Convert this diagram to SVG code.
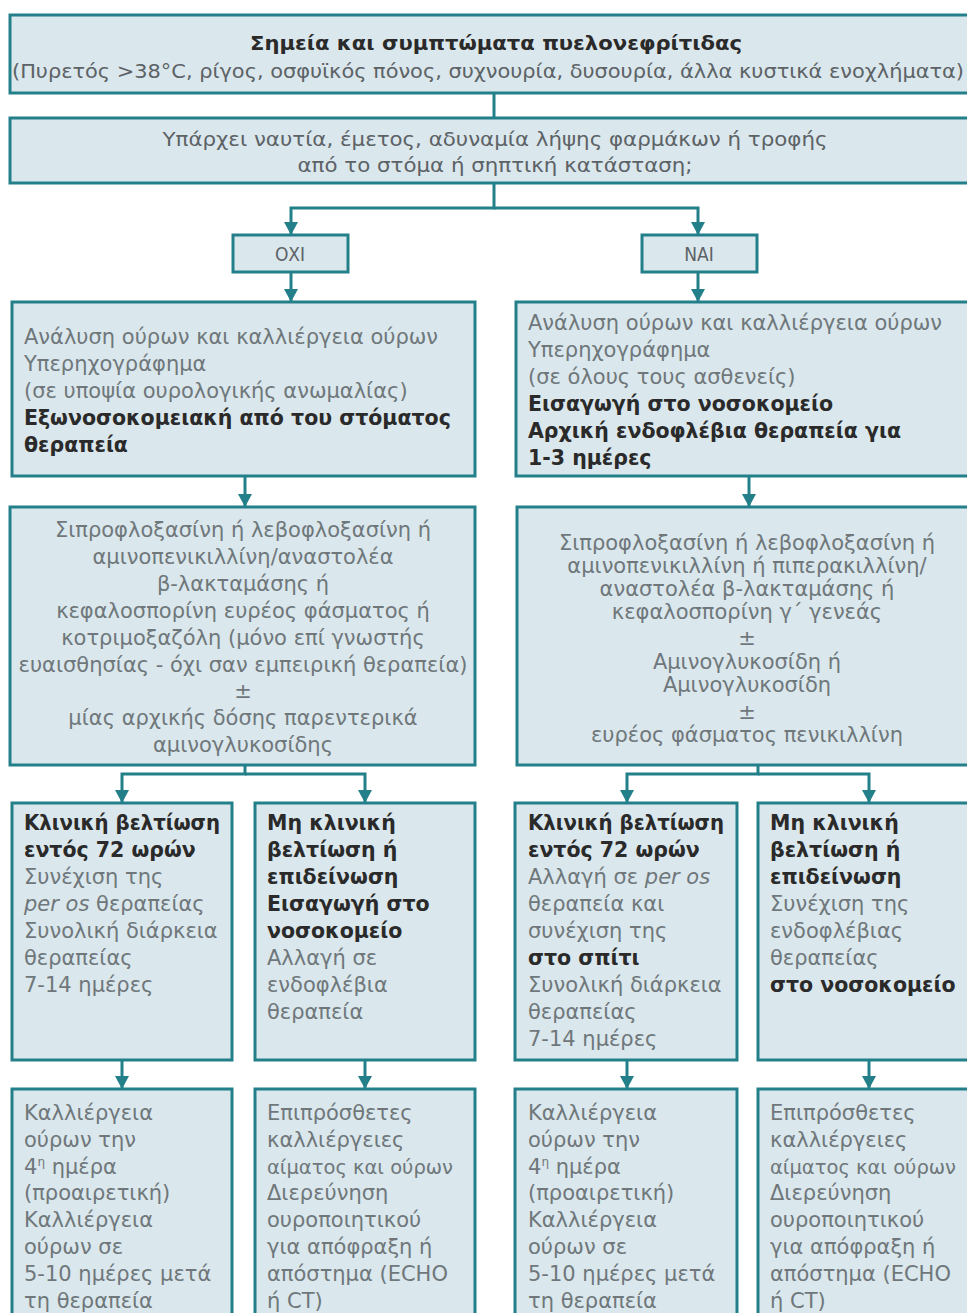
<svg xmlns="http://www.w3.org/2000/svg" width="967" height="1313" viewBox="0 0 967 1313">
<defs>
<marker id="arr" viewBox="0 0 13 14" refX="12" refY="7" markerWidth="13" markerHeight="14" markerUnits="userSpaceOnUse" orient="auto">
<path d="M0,0 L13,7 L0,14 z" fill="#23808a"/>
</marker>
<style>
.box{fill:#dae7ec;stroke:#23808a;stroke-width:3}
.con{fill:none;stroke:#23808a;stroke-width:3}
.t{font-family:"DejaVu Sans","Liberation Sans",sans-serif;font-size:21px;fill:#6f777b}
.b{font-family:"DejaVu Sans","Liberation Sans",sans-serif;font-size:20.5px;font-weight:bold;fill:#2a2a2a}
.c{text-anchor:middle}
.s{font-size:19.5px}
.n{font-family:"DejaVu Sans Condensed","DejaVu Sans","Liberation Sans Narrow",sans-serif;font-size:19px;fill:#5c6266}
</style>
</defs>
<rect width="967" height="1313" fill="#ffffff"/>

<g id="connectors">
<path class="con" d="M494,93 V118"/>
<path class="con" d="M494,183 V208 H291 V234" marker-end="url(#arr)"/>
<path class="con" d="M494,208 H698 V234" marker-end="url(#arr)"/>
<path class="con" d="M291,272 V301" marker-end="url(#arr)"/>
<path class="con" d="M698,272 V301" marker-end="url(#arr)"/>
<path class="con" d="M245,476 V506" marker-end="url(#arr)"/>
<path class="con" d="M749,476 V506" marker-end="url(#arr)"/>
<path class="con" d="M245,765 V774 H122 V802" marker-end="url(#arr)"/>
<path class="con" d="M245,774 H365 V802" marker-end="url(#arr)"/>
<path class="con" d="M758,765 V774 H627 V802" marker-end="url(#arr)"/>
<path class="con" d="M758,774 H869 V802" marker-end="url(#arr)"/>
<path class="con" d="M122,1060 V1088" marker-end="url(#arr)"/>
<path class="con" d="M365,1060 V1088" marker-end="url(#arr)"/>
<path class="con" d="M627,1060 V1088" marker-end="url(#arr)"/>
<path class="con" d="M869,1060 V1088" marker-end="url(#arr)"/>
</g>

<g id="n1">
<rect class="box" x="10" y="15" width="975" height="78"/>
<text class="n c" x="496" y="50" font-weight="bold" style="fill:#2a2a2a" textLength="492" lengthAdjust="spacingAndGlyphs">Σημεία και συμπτώματα πυελονεφρίτιδας</text>
<text class="n c" x="488" y="78" textLength="952" lengthAdjust="spacingAndGlyphs">(Πυρετός &gt;38°C, ρίγος, οσφυϊκός πόνος, συχνουρία, δυσουρία, άλλα κυστικά ενοχλήματα)</text>
</g>

<g id="n2">
<rect class="box" x="10" y="118" width="975" height="65"/>
<text class="n c" x="495" y="146" textLength="665" lengthAdjust="spacingAndGlyphs">Υπάρχει ναυτία, έμετος, αδυναμία λήψης φαρμάκων ή τροφής</text>
<text class="n c" x="495" y="172" textLength="395" lengthAdjust="spacingAndGlyphs">από το στόμα ή σηπτική κατάσταση;</text>
</g>

<g id="n_oxi">
<rect class="box" x="233" y="235" width="115" height="37"/>
<text class="n c" x="290" y="261">ΟΧΙ</text>
</g>

<g id="n_nai">
<rect class="box" x="642" y="235" width="115" height="37"/>
<text class="n c" x="699" y="261">ΝΑΙ</text>
</g>

<g id="n3l">
<rect class="box" x="12" y="302" width="463" height="174"/>
<text class="t" x="24" y="344">Ανάλυση ούρων και καλλιέργεια ούρων</text>
<text class="t" x="24" y="371">Υπερηχογράφημα</text>
<text class="t" x="24" y="398">(σε υποψία ουρολογικής ανωμαλίας)</text>
<text class="b" x="24" y="425">Εξωνοσοκομειακή από του στόματος</text>
<text class="b" x="24" y="452">θεραπεία</text>
</g>

<g id="n3r">
<rect class="box" x="516" y="302" width="470" height="174"/>
<text class="t" x="528" y="330">Ανάλυση ούρων και καλλιέργεια ούρων</text>
<text class="t" x="528" y="357">Υπερηχογράφημα</text>
<text class="t" x="528" y="384">(σε όλους τους ασθενείς)</text>
<text class="b" x="528" y="411">Εισαγωγή στο νοσοκομείο</text>
<text class="b" x="528" y="438">Αρχική ενδοφλέβια θεραπεία για</text>
<text class="b" x="528" y="465">1-3 ημέρες</text>
</g>

<g id="n4l">
<rect class="box" x="10" y="507" width="465" height="258"/>
<text class="t c" x="243" y="537">Σιπροφλοξασίνη ή λεβοφλοξασίνη ή</text>
<text class="t c" x="243" y="564">αμινοπενικιλλίνη/αναστολέα</text>
<text class="t c" x="243" y="591">β-λακταμάσης ή</text>
<text class="t c" x="243" y="618">κεφαλοσπορίνη ευρέος φάσματος ή</text>
<text class="t c" x="243" y="645">κοτριμοξαζόλη (μόνο επί γνωστής</text>
<text class="t c" x="243" y="672">ευαισθησίας - όχι σαν εμπειρική θεραπεία)</text>
<text class="t c" x="243" y="698">±</text>
<text class="t c" x="243" y="725">μίας αρχικής δόσης παρεντερικά</text>
<text class="t c" x="243" y="752">αμινογλυκοσίδης</text>
</g>

<g id="n4r">
<rect class="box" x="517" y="507" width="470" height="258"/>
<text class="t c" x="747" y="550">Σιπροφλοξασίνη ή λεβοφλοξασίνη ή</text>
<text class="t c" x="747" y="573">αμινοπενικιλλίνη ή πιπερακιλλίνη/</text>
<text class="t c" x="747" y="596">αναστολέα β-λακταμάσης ή</text>
<text class="t c" x="747" y="619">κεφαλοσπορίνη γ΄ γενεάς</text>
<text class="t c" x="747" y="645">±</text>
<text class="t c" x="747" y="669">Αμινογλυκοσίδη ή</text>
<text class="t c" x="747" y="692">Αμινογλυκοσίδη</text>
<text class="t c" x="747" y="719">±</text>
<text class="t c" x="747" y="742">ευρέος φάσματος πενικιλλίνη</text>
</g>

<g id="n5a">
<rect class="box" x="12" y="803" width="220" height="257"/>
<text class="b" x="24" y="830" textLength="196" lengthAdjust="spacingAndGlyphs">Κλινική βελτίωση</text>
<text class="b" x="24" y="857">εντός 72 ωρών</text>
<text class="t" x="24" y="884">Συνέχιση της</text>
<text class="t" x="24" y="911"><tspan font-style="italic">per os</tspan> θεραπείας</text>
<text class="t" x="24" y="938">Συνολική διάρκεια</text>
<text class="t" x="24" y="965">θεραπείας</text>
<text class="t" x="24" y="992">7-14 ημέρες</text>
</g>

<g id="n5b">
<rect class="box" x="255" y="803" width="220" height="257"/>
<text class="b" x="267" y="830">Μη κλινική</text>
<text class="b" x="267" y="857">βελτίωση ή</text>
<text class="b" x="267" y="884">επιδείνωση</text>
<text class="b" x="267" y="911">Εισαγωγή στο</text>
<text class="b" x="267" y="938">νοσοκομείο</text>
<text class="t" x="267" y="965">Αλλαγή σε</text>
<text class="t" x="267" y="992">ενδοφλέβια</text>
<text class="t" x="267" y="1019">θεραπεία</text>
</g>

<g id="n5c">
<rect class="box" x="515" y="803" width="222" height="257"/>
<text class="b" x="528" y="830" textLength="196" lengthAdjust="spacingAndGlyphs">Κλινική βελτίωση</text>
<text class="b" x="528" y="857">εντός 72 ωρών</text>
<text class="t" x="528" y="884">Αλλαγή σε <tspan font-style="italic">per os</tspan></text>
<text class="t" x="528" y="911">θεραπεία και</text>
<text class="t" x="528" y="938">συνέχιση της</text>
<text class="b" x="528" y="965">στο σπίτι</text>
<text class="t" x="528" y="992">Συνολική διάρκεια</text>
<text class="t" x="528" y="1019">θεραπείας</text>
<text class="t" x="528" y="1046">7-14 ημέρες</text>
</g>

<g id="n5d">
<rect class="box" x="758" y="803" width="230" height="257"/>
<text class="b" x="770" y="830">Μη κλινική</text>
<text class="b" x="770" y="857">βελτίωση ή</text>
<text class="b" x="770" y="884">επιδείνωση</text>
<text class="t" x="770" y="911">Συνέχιση της</text>
<text class="t" x="770" y="938">ενδοφλέβιας</text>
<text class="t" x="770" y="965">θεραπείας</text>
<text class="b" x="770" y="992">στο νοσοκομείο</text>
</g>

<g id="n6a">
<rect class="box" x="12" y="1089" width="220" height="250"/>
<text class="t" x="24" y="1120">Καλλιέργεια</text>
<text class="t" x="24" y="1147">ούρων την</text>
<text class="t" x="24" y="1174">4<tspan font-size="12" dy="-8">η</tspan><tspan dy="8"> ημέρα</tspan></text>
<text class="t" x="24" y="1200">(προαιρετική)</text>
<text class="t" x="24" y="1227">Καλλιέργεια</text>
<text class="t" x="24" y="1254">ούρων σε</text>
<text class="t" x="24" y="1281">5-10 ημέρες μετά</text>
<text class="t" x="24" y="1308">τη θεραπεία</text>
</g>

<g id="n6b">
<rect class="box" x="255" y="1089" width="220" height="250"/>
<text class="t" x="267" y="1120">Επιπρόσθετες</text>
<text class="t" x="267" y="1147">καλλιέργειες</text>
<text class="t s" x="267" y="1174">αίματος και ούρων</text>
<text class="t" x="267" y="1200">Διερεύνηση</text>
<text class="t" x="267" y="1227">ουροποιητικού</text>
<text class="t" x="267" y="1254">για απόφραξη ή</text>
<text class="t" x="267" y="1281">απόστημα (ECHO</text>
<text class="t" x="267" y="1308">ή CT)</text>
</g>

<g id="n6c">
<rect class="box" x="515" y="1089" width="222" height="250"/>
<text class="t" x="528" y="1120">Καλλιέργεια</text>
<text class="t" x="528" y="1147">ούρων την</text>
<text class="t" x="528" y="1174">4<tspan font-size="12" dy="-8">η</tspan><tspan dy="8"> ημέρα</tspan></text>
<text class="t" x="528" y="1200">(προαιρετική)</text>
<text class="t" x="528" y="1227">Καλλιέργεια</text>
<text class="t" x="528" y="1254">ούρων σε</text>
<text class="t" x="528" y="1281">5-10 ημέρες μετά</text>
<text class="t" x="528" y="1308">τη θεραπεία</text>
</g>

<g id="n6d">
<rect class="box" x="758" y="1089" width="230" height="250"/>
<text class="t" x="770" y="1120">Επιπρόσθετες</text>
<text class="t" x="770" y="1147">καλλιέργειες</text>
<text class="t s" x="770" y="1174">αίματος και ούρων</text>
<text class="t" x="770" y="1200">Διερεύνηση</text>
<text class="t" x="770" y="1227">ουροποιητικού</text>
<text class="t" x="770" y="1254">για απόφραξη ή</text>
<text class="t" x="770" y="1281">απόστημα (ECHO</text>
<text class="t" x="770" y="1308">ή CT)</text>
</g>
</svg>
